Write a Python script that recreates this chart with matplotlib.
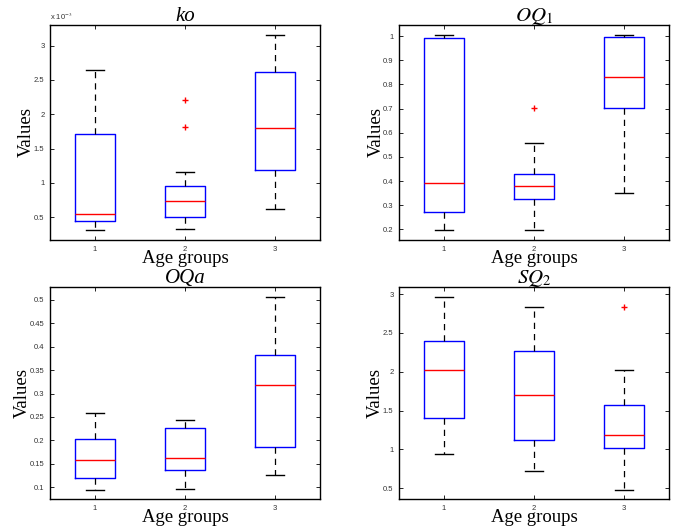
import matplotlib
matplotlib.use("Agg")
import matplotlib.pyplot as plt
import numpy as np

plt.rcParams["mathtext.fontset"] = "stix"

groups = [1, 2, 3]
group_labels = ["1", "2", "3"]

# ko (values in units of 1e-3)
ko_whislo = [0.31e-3, 0.32e-3, 0.62e-3]
ko_q1 = [0.446e-3, 0.505e-3, 1.188e-3]
ko_med = [0.549e-3, 0.734e-3, 1.804e-3]
ko_q3 = [1.716e-3, 0.949e-3, 2.609e-3]
ko_whishi = [2.64e-3, 1.154e-3, 3.151e-3]
ko_fliers = [[], [2.204e-3, 1.818e-3], []]

# OQ1
oq1_whislo = [0.197, 0.196, 0.351]
oq1_q1 = [0.271, 0.326, 0.701]
oq1_med = [0.390, 0.381, 0.831]
oq1_q3 = [0.993, 0.431, 0.997]
oq1_whishi = [1.003, 0.556, 1.003]
oq1_fliers = [[], [0.704], []]

# OQa
oqa_whislo = [0.094, 0.096, 0.127]
oqa_q1 = [0.119, 0.137, 0.186]
oqa_med = [0.158, 0.162, 0.318]
oqa_q3 = [0.202, 0.226, 0.383]
oqa_whishi = [0.258, 0.243, 0.506]
oqa_fliers = [[], [], []]

# SQ2
sq2_whislo = [0.946, 0.723, 0.474]
sq2_q1 = [1.409, 1.126, 1.023]
sq2_med = [2.027, 1.705, 1.190]
sq2_q3 = [2.395, 2.262, 1.568]
sq2_whishi = [2.961, 2.828, 2.018]
sq2_fliers = [[], [], [2.837]]


def make_stats(lo, q1, med, q3, hi, fl):
    return [dict(whislo=lo[i], q1=q1[i], med=med[i], q3=q3[i], whishi=hi[i],
                 fliers=np.array(fl[i])) for i in range(len(med))]


def draw_panel(ax, stats, title, ylim, yticks, tick_fmt):
    ax.bxp(stats, positions=groups, widths=0.45, capwidths=0.2,
           boxprops=dict(color="blue", linewidth=1.0),
           medianprops=dict(color="red", linewidth=1.0),
           whiskerprops=dict(color="black", linestyle=(0, (5, 4)), linewidth=0.9),
           capprops=dict(color="black", linewidth=1.0),
           flierprops=dict(marker="+", markeredgecolor="red", markersize=5,
                           markeredgewidth=1.0, linestyle="none"))
    ax.set_xlim(0.5, 3.5)
    ax.set_ylim(*ylim)
    ax.set_xticks(groups)
    ax.set_xticklabels(group_labels)
    ax.set_yticks(yticks)
    ax.set_yticklabels([tick_fmt(v) for v in yticks])
    ax.tick_params(direction="in", top=True, right=True, length=3,
                   width=0.6, labelsize=5.5, pad=4)
    for lab in ax.get_xticklabels() + ax.get_yticklabels():
        lab.set_fontfamily("Liberation Sans")
        lab.set_color("#333333")
    for sp in ax.spines.values():
        sp.set_linewidth(1.0)
    ax.set_title(title, fontfamily="Liberation Serif", fontstyle="italic",
                 fontsize=15, pad=3)
    ax.set_xlabel("Age groups", fontfamily="Liberation Serif", fontsize=13.5,
                  labelpad=-2)
    ax.set_ylabel("Values", fontfamily="Liberation Serif", fontsize=13.5,
                  labelpad=-1)


def fmt_g(v):
    return ("%.2f" % v).rstrip("0").rstrip(".")


fig = plt.figure(figsize=(6.83, 5.27), dpi=100)
w = 0.3953
ax1 = fig.add_axes([0.0732, 0.5446, w, 0.408])
ax2 = fig.add_axes([0.5842, 0.5446, w, 0.408])
ax3 = fig.add_axes([0.0732, 0.0522, w, 0.403])
ax4 = fig.add_axes([0.5842, 0.0522, w, 0.403])

draw_panel(ax1, make_stats(ko_whislo, ko_q1, ko_med, ko_q3, ko_whishi, ko_fliers),
           "ko", (0.167e-3, 3.30e-3),
           [0.5e-3, 1e-3, 1.5e-3, 2e-3, 2.5e-3, 3e-3],
           lambda v: fmt_g(v * 1e3))
ax1.text(0.0, 1.012, r"x 10$^{-3}$", transform=ax1.transAxes, fontsize=5.5,
         fontfamily="Liberation Sans", color="#333333", va="bottom", ha="left")

draw_panel(ax2, make_stats(oq1_whislo, oq1_q1, oq1_med, oq1_q3, oq1_whishi, oq1_fliers),
           r"$\mathit{OQ}_{\mathrm{1}}$", (0.156, 1.046),
           [0.2, 0.3, 0.4, 0.5, 0.6, 0.7, 0.8, 0.9, 1.0], fmt_g)

draw_panel(ax3, make_stats(oqa_whislo, oqa_q1, oqa_med, oqa_q3, oqa_whishi, oqa_fliers),
           "OQa", (0.074, 0.527),
           [0.1, 0.15, 0.2, 0.25, 0.3, 0.35, 0.4, 0.45, 0.5], fmt_g)

draw_panel(ax4, make_stats(sq2_whislo, sq2_q1, sq2_med, sq2_q3, sq2_whishi, sq2_fliers),
           r"$\mathit{SQ}_{\mathrm{2}}$", (0.354, 3.09),
           [0.5, 1, 1.5, 2, 2.5, 3], fmt_g)

fig.savefig("out.png", dpi=100)
